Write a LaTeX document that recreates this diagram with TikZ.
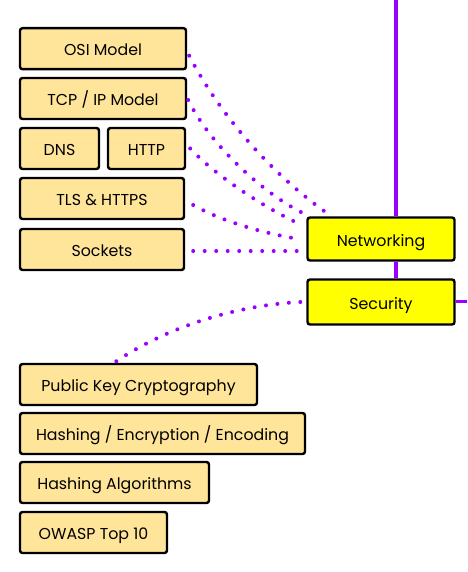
\documentclass[tikz,border=0pt]{standalone}
\usepackage{fontspec}
\setmainfont{Poppins}
\definecolor{boxfill}{HTML}{FFE599}
\definecolor{hubfill}{HTML}{FFFF00}
\definecolor{purp}{HTML}{9900FF}
\begin{document}
\begin{tikzpicture}[x=1pt,y=-1pt,
  topic/.style={draw=black, line width=2.4pt, rounded corners=2.5pt, fill=boxfill,
    inner sep=0pt, text height=14.4pt, text depth=0pt,
    font=\fontsize{15.8}{18}\selectfont, text=black},
  hub/.style={topic, fill=hubfill},
  dotline/.style={draw=purp, line width=4pt, line cap=round, dash pattern=on 0pt off 11.5pt},
  spine/.style={draw=purp, line width=3.6pt}]
\useasboundingbox (0,0) rectangle (467,572);
% topic boxes
\node[topic, minimum width=166pt, minimum height=41pt] (osi)  at (103,48.7) {OSI Model};
\node[topic, minimum width=166pt, minimum height=41pt] (tcp)  at (103,98.5) {TCP / IP Model};
\node[topic, minimum width=79pt,  minimum height=41pt] (dns)  at (59.5,148.5) {DNS};
\node[topic, minimum width=77pt,  minimum height=41pt] (http) at (146.5,148.5) {HTTP};
\node[topic, minimum width=164pt, minimum height=41pt] (tls)  at (102,198.5) {TLS \& HTTPS};
\node[topic, minimum width=164pt, minimum height=41pt] (sock) at (102,249.5) {Sockets};
\node[hub,   minimum width=147pt, minimum height=43pt] (net)  at (381,239) {Networking};
\node[hub,   minimum width=147pt, minimum height=45pt] (sec)  at (381,302) {Security};
\node[topic, minimum width=237pt, minimum height=41pt] (pkc)  at (138.5,384.5) {Public Key Cryptography};
\node[topic, minimum width=285pt, minimum height=41pt] (hash) at (162.5,433.5) {Hashing / Encryption / Encoding};
\node[topic, minimum width=189pt, minimum height=41pt] (halg) at (114.5,482.5) {Hashing Algorithms};
\node[topic, minimum width=147pt, minimum height=41pt] (owasp) at (93.5,532.5) {OWASP Top 10};
% spine
\coordinate (top) at (396,0);
\coordinate (right) at (467,301.5);
\draw[spine] (top) -- (top |- net.north);
\draw[spine] (top |- net.south) -- (top |- sec.north);
\draw[spine] (sec.east |- right) -- (right);
% dotted connectors
\draw[dotline] ([xshift=2pt,yshift=-7pt]osi.east) .. controls +(36,69) and +(-47,-33) .. ([xshift=21pt,yshift=3pt]net.north west);
\draw[dotline] ([xshift=1pt,yshift=-1.5pt]tcp.east) .. controls +(22,45) and +(-39,-20) .. ([xshift=-5pt,yshift=4pt]net.north west);
\draw[dotline] ([xshift=4pt]http.east) .. controls +(25,27) and +(-35,-16) .. ([xshift=-6pt,yshift=-8pt]net.north west);
\draw[dotline] ([xshift=8pt,yshift=-6.5pt]tls.east) .. controls +(30,17) and +(-35,-6) .. ([xshift=-8pt]net.west);
\draw[dotline] ([xshift=8pt,yshift=-1.5pt]sock.east) -- ([xshift=-2pt,yshift=-1.5pt]sock.east -| net.west);
\draw[dotline] ([xshift=-6pt]sec.west) .. controls +(-60,3) and +(55,-37) .. ([xshift=-23pt,yshift=1pt]pkc.north);
\end{tikzpicture}
\end{document}
